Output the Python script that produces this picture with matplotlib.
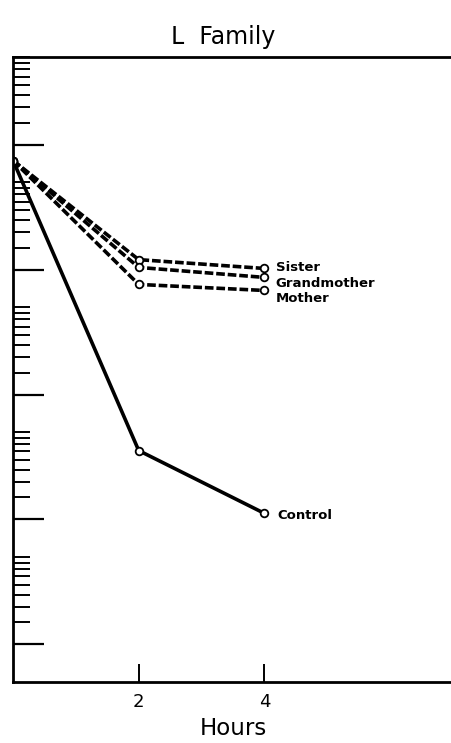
# L Family - decline over time, log scale

import numpy as np
from matplotlib import pyplot as plt
from matplotlib.ticker import FixedLocator, NullFormatter

hours = [0, 2, 4]
sister = [7450, 1200, 1020]
grandmother = [7450, 1040, 865]
mother = [7450, 760, 680]
control = [7450, 35.6, 11.2]
labels = ['Sister', 'Grandmother', 'Mother', 'Control']

plt.rcParams['font.family'] = ['DejaVu Sans']

fig = plt.figure(figsize=(4.51, 7.43), dpi=100)
ax = fig.add_axes([0.029, 0.082, 0.975, 0.841])

kw = dict(color='black', lw=2.6, marker='o', markersize=5.5,
          markerfacecolor='white', markeredgewidth=1.3)
ax.plot(hours, sister, linestyle=(0, (2.4, 0.8)), **kw)
ax.plot(hours, grandmother, linestyle=(0, (2.4, 0.8)), **kw)
ax.plot(hours, mother, linestyle=(0, (2.4, 0.8)), **kw)
ax.plot(hours, control, linestyle='solid', **kw)

lab_kw = dict(fontsize=9.5, fontweight='bold', va='center', ha='left')
ax.text(4.18, 1030, labels[0], **lab_kw)
ax.text(4.18, 770, labels[1], **lab_kw)
ax.text(4.18, 585, labels[2], **lab_kw)
ax.text(4.2, 10.8, labels[3], **lab_kw)

ax.set_yscale('log')
ax.set_ylim(0.5, 50000)
ax.set_xlim(0, 7)

ax.set_xticks([2, 4])
ax.set_xticklabels(['2', '4'], fontsize=13)
ax.yaxis.set_major_locator(FixedLocator([1, 10, 100, 1000, 10000]))
minor = [m * 10.0 ** k for k in range(0, 5) for m in [1.5, 2, 2.5, 3, 3.5, 4, 4.5, 5]]
ax.yaxis.set_minor_locator(FixedLocator(minor))
ax.yaxis.set_major_formatter(NullFormatter())
ax.yaxis.set_minor_formatter(NullFormatter())

ax.tick_params(axis='y', which='major', direction='in', length=22, width=1.6)
ax.tick_params(axis='y', which='minor', direction='in', length=12, width=1.4)
ax.tick_params(axis='x', direction='in', length=13, width=1.4, pad=8)

for s in ['left', 'bottom', 'top']:
    ax.spines[s].set_linewidth(2)
ax.spines['right'].set_visible(False)

ax.set_xlabel('Hours', fontsize=16.5, labelpad=4)
fig.text(0.495, 0.95, 'L  Family', fontsize=17, ha='center', va='center')

plt.savefig('out.png', dpi=100)
